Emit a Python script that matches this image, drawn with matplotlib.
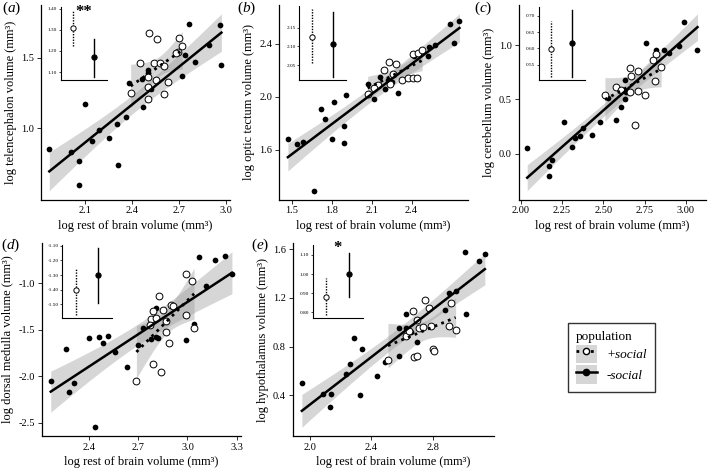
import numpy as np
import matplotlib
matplotlib.use("Agg")
import matplotlib.pyplot as plt
from matplotlib.lines import Line2D
from matplotlib.patches import Patch

plt.rcParams["font.family"] = ["Liberation Serif", "DejaVu Serif"]
plt.rcParams["mathtext.fontset"] = "custom"
plt.rcParams["mathtext.rm"] = "Liberation Serif"
plt.rcParams["mathtext.it"] = "Liberation Serif:italic"
plt.rcParams["axes.unicode_minus"] = False

W, H = 708, 468
XLABEL = "log rest of brain volume (mm³)"

# (a) telencephalon
a_fill_x = [1.87, 2.01, 2.06, 2.06, 2.10, 2.14, 2.19, 2.25, 2.30, 2.31, 2.36, 2.38,
            2.46, 2.47, 2.50, 2.50, 2.52, 2.72, 2.74, 2.76, 2.80, 2.89, 2.96, 2.97]
a_fill_y = [0.85, 0.83, 0.77, 0.60, 1.17, 0.91, 0.99, 0.93, 1.03, 0.74, 1.08, 1.32,
            1.35, 1.15, 1.41, 1.39, 1.28, 1.37, 1.52, 1.74, 1.47, 1.59, 1.73, 1.45]
a_open_x = [2.39, 2.51, 2.56, 2.70, 2.72, 2.69, 2.68, 2.45, 2.54, 2.58, 2.60, 2.50,
            2.55, 2.50, 2.63, 2.60, 2.50]
a_open_y = [1.25, 1.67, 1.63, 1.64, 1.58, 1.54, 1.53, 1.46, 1.46, 1.46, 1.44, 1.36,
            1.34, 1.29, 1.33, 1.24, 1.21]
a_inset = dict(mean=[1.31, 1.17], lo=[1.225, 1.078], hi=[1.392, 1.257], star="**", star_y=1.385)

# (b) optic tectum
b_fill_x = [1.47, 1.54, 1.58, 1.67, 1.75, 1.72, 1.82, 1.91, 1.80, 1.89, 1.89, 2.07,
            2.12, 2.16, 2.20, 2.25, 2.30, 2.42, 2.52, 2.53, 2.58, 2.69, 2.72, 2.76, 2.22]
b_fill_y = [1.68, 1.64, 1.66, 1.29, 1.83, 1.91, 1.96, 2.01, 1.68, 1.78, 1.65, 2.10,
            1.98, 2.15, 2.06, 2.11, 2.03, 2.31, 2.31, 2.38, 2.39, 2.55, 2.41, 2.57, 2.13]
b_open_x = [2.07, 2.19, 2.23, 2.28, 2.26, 2.15, 2.24, 2.33, 2.37, 2.41, 2.44, 2.41,
            2.45, 2.48, 2.12]
b_open_y = [2.02, 2.20, 2.26, 2.25, 2.17, 2.09, 2.10, 2.13, 2.14, 2.14, 2.14, 2.32,
            2.33, 2.35, 2.07]
b_inset = dict(mean=[2.126, 2.106], lo=[2.056, 2.02], hi=[2.198, 2.19], star="", star_y=None)

# (c) cerebellum
c_fill_x = [2.04, 2.17, 2.17, 2.19, 2.26, 2.31, 2.33, 2.36, 2.38, 2.43, 2.48, 2.53,
            2.58, 2.61, 2.63, 2.63, 2.64, 2.76, 2.82, 2.87, 2.90, 2.96, 2.99, 3.07]
c_fill_y = [0.05, -0.12, -0.21, -0.06, 0.29, 0.06, 0.14, 0.16, 0.24, 0.17, 0.29, 0.51,
            0.31, 0.43, 0.50, 0.68, 0.57, 1.02, 0.96, 0.96, 0.93, 0.99, 1.21, 0.96]
c_open_x = [2.51, 2.58, 2.61, 2.66, 2.71, 2.67, 2.66, 2.71, 2.75, 2.80, 2.82, 2.85,
            2.81, 2.69]
c_open_y = [0.54, 0.61, 0.59, 0.79, 0.76, 0.72, 0.57, 0.58, 0.54, 0.86, 0.92, 0.80,
            0.67, 0.26]
c_inset = dict(mean=[0.598, 0.617], lo=[0.513, 0.513], hi=[0.683, 0.717], star="", star_y=None)

# (d) dorsal medulla
d_fill_x = [2.17, 2.26, 2.28, 2.31, 2.40, 2.44, 2.46, 2.49, 2.52, 2.56, 2.63, 2.70,
            2.73, 2.78, 2.81, 2.82, 2.81, 2.99, 3.04, 3.07, 3.11, 3.17, 3.23, 3.27]
d_fill_y = [-2.05, -1.71, -2.17, -2.07, -1.59, -2.55, -1.58, -1.64, -1.57, -1.74, -1.90, -1.66,
            -1.48, -1.60, -1.58, -1.59, -1.27, -1.61, -1.44, -0.72, -1.03, -0.75, -0.71, -0.90]
d_open_x = [2.69, 2.79, 2.84, 2.78, 2.79, 2.83, 2.85, 2.87, 2.89, 2.90, 2.91, 2.99,
            3.03, 2.99, 3.04, 2.77, 2.81, 2.87]
d_open_y = [-2.05, -1.87, -1.96, -1.38, -1.30, -1.14, -1.29, -1.52, -1.64, -1.23, -1.24, -0.90,
            -0.98, -1.34, -1.48, -1.45, -1.37, -1.41]
d_inset = dict(mean=[-1.402, -1.30], lo=[-1.57, -1.487], hi=[-1.257, -1.117], star="", star_y=None)

# (e) hypothalamus
e_fill_x = [1.95, 2.09, 2.13, 2.14, 2.24, 2.26, 2.29, 2.33, 2.34, 2.44, 2.49, 2.58,
            2.58, 2.63, 2.63, 2.66, 2.70, 2.88, 2.91, 2.95, 3.01, 3.02, 3.10, 3.14]
e_fill_y = [0.50, 0.41, 0.30, 0.41, 0.57, 0.66, 0.87, 0.40, 0.78, 0.56, 0.67, 0.95,
            0.72, 1.07, 0.95, 0.92, 0.84, 1.10, 1.24, 1.26, 1.58, 1.07, 1.50, 1.56]
e_open_x = [2.51, 2.63, 2.67, 2.70, 2.71, 2.75, 2.78, 2.79, 2.74, 2.68, 2.70, 2.80,
            2.81, 2.92, 2.91, 2.95, 2.65]
e_open_y = [0.69, 0.89, 1.09, 1.02, 0.95, 1.18, 1.12, 0.97, 0.96, 0.71, 0.72, 0.78,
            0.76, 1.16, 0.97, 0.94, 0.93]
e_inset = dict(mean=[0.88, 0.998], lo=[0.787, 0.88], hi=[0.98, 1.113], star="*", star_y=1.135)

PANELS = [
    ("a", a_fill_x, a_fill_y, a_open_x, a_open_y, a_inset,
     "log telencephalon volume (mm³)", [2.1, 2.4, 2.7, 3.0], [1.0, 1.5], "%.1f", "%.1f",
     [1.10, 1.20, 1.30, 1.40]),
    ("b", b_fill_x, b_fill_y, b_open_x, b_open_y, b_inset,
     "log optic tectum volume (mm³)", [1.5, 1.8, 2.1, 2.4], [1.6, 2.0, 2.4], "%.1f", "%.1f",
     [2.05, 2.10, 2.15]),
    ("c", c_fill_x, c_fill_y, c_open_x, c_open_y, c_inset,
     "log cerebellum volume (mm³)", [2.0, 2.25, 2.5, 2.75, 3.0], [0.0, 0.5, 1.0], "%.2f", "%.1f",
     [0.55, 0.60, 0.65, 0.70]),
    ("d", d_fill_x, d_fill_y, d_open_x, d_open_y, d_inset,
     "log dorsal medulla volume (mm³)", [2.4, 2.7, 3.0, 3.3], [-2.5, -2.0, -1.5, -1.0], "%.1f", "%.1f",
     [-1.50, -1.40, -1.30, -1.20, -1.10]),
    ("e", e_fill_x, e_fill_y, e_open_x, e_open_y, e_inset,
     "log hypothalamus volume (mm³)", [2.0, 2.4, 2.8], [0.4, 0.8, 1.2, 1.6], "%.1f", "%.1f",
     [0.80, 0.90, 1.00, 1.10]),
]

# pixel boxes: left, top, right, bottom
MAIN_BOX = {"a": (40.7, 5, 230, 199.5), "b": (279.3, 5, 468, 199.5), "c": (518.7, 5, 706, 199.5),
            "d": (41.7, 243, 241, 436), "e": (292.7, 243, 494, 436)}
INSET_BOX = {"a": (60.7, 7, 107, 80), "b": (299, 6, 346, 80), "c": (538.7, 7, 585, 80),
             "d": (62.3, 245, 111.7, 318), "e": (312.7, 245, 363, 318)}
TAG_POS = {"a": (2, 8), "b": (237, 8), "c": (474, 8), "d": (1, 245), "e": (251, 245)}

DOTTED = (0, (1, 1.6))
RIBBON = "#999999"


def px_axes(fig, box):
    left, top, right, bottom = box
    return fig.add_axes([left / W, 1 - bottom / H, (right - left) / W, (bottom - top) / H])


def t975(df):
    return 1.96 + 2.5 / df


def lm_band(x, y, n=80):
    x = np.asarray(x, float)
    y = np.asarray(y, float)
    b1, b0 = np.polyfit(x, y, 1)
    xs = np.linspace(x.min(), x.max(), n)
    fit = b0 + b1 * xs
    df = len(x) - 2
    s = np.sqrt(((y - (b0 + b1 * x)) ** 2).sum() / df)
    sxx = ((x - x.mean()) ** 2).sum()
    se = s * np.sqrt(1 / len(x) + (xs - x.mean()) ** 2 / sxx)
    return xs, fit, fit - t975(df) * se, fit + t975(df) * se


def expand(lo, hi, frac=0.05):
    pad = (hi - lo) * frac
    return lo - pad, hi + pad


def style_axes(ax, lw=0.9, ticklen=3):
    for side in ("top", "right"):
        ax.spines[side].set_visible(False)
    for side in ("left", "bottom"):
        ax.spines[side].set_linewidth(lw)
    ax.tick_params(direction="out", length=ticklen, width=lw * 0.8, color="#333333")


def draw_main(ax, fx, fy, ox, oy, ylabel, xticks, yticks, xfmt, yfmt):
    ys_all = list(fy) + list(oy)
    fits = []
    for x, y, ls in ((ox, oy, DOTTED), (fx, fy, "-")):
        xs, fit, lo, hi = lm_band(x, y)
        ax.fill_between(xs, lo, hi, color=RIBBON, alpha=0.4, lw=0, zorder=1)
        fits.append((xs, fit, ls))
        ys_all += list(lo) + list(hi)
    ax.scatter(fx, fy, s=17, color="black", zorder=3, lw=0)
    ax.scatter(ox, oy, s=24, facecolor="white", edgecolor="black", lw=0.7, zorder=3)
    for xs, fit, ls in fits:
        ax.plot(xs, fit, color="black", lw=2.0 if ls == DOTTED else 1.8, ls=ls, zorder=4)
    xall = list(fx) + list(ox)
    ax.set_xlim(*expand(min(xall), max(xall)))
    ax.set_ylim(*expand(min(ys_all), max(ys_all)))
    ax.set_xticks(xticks)
    ax.set_xticklabels([xfmt % v for v in xticks])
    ax.set_yticks(yticks)
    ax.set_yticklabels([yfmt % v for v in yticks])
    ax.tick_params(labelsize=7.5, pad=2)
    ax.set_xlabel(XLABEL, fontsize=9, labelpad=3)
    ax.set_ylabel(ylabel, fontsize=9, labelpad=3)
    style_axes(ax)


def draw_inset(ax, ins, yticks):
    cats = [1, 2]
    styles = [(DOTTED, "white"), ("-", "black")]
    for c, m, lo, hi, (ls, fc) in zip(cats, ins["mean"], ins["lo"], ins["hi"], styles):
        ax.plot([c, c], [lo, hi], color="black", lw=1.0, ls=ls if ls == "-" else (0, (1, 1)))
        ax.plot([c], [m], marker="o", ms=3.8, mfc=fc, mec="black", mew=0.7, zorder=3)
    vals = ins["lo"] + ins["hi"]
    if ins["star"]:
        ax.text(1.5, ins["star_y"], ins["star"], ha="center", va="center", fontsize=12,
                fontweight="bold")
        vals = vals + [ins["star_y"]]
    ax.set_xlim(0.4, 2.6)
    ax.set_ylim(*expand(min(vals), max(vals)))
    ax.set_xticks([])
    ax.set_yticks(yticks)
    ax.set_yticklabels(["%.2f" % v for v in yticks])
    ax.tick_params(axis="y", labelsize=3.8, pad=1, length=1.5)
    ax.patch.set_alpha(0)
    style_axes(ax, lw=0.8, ticklen=1.5)
    ax.tick_params(axis="y", length=1.5)


fig = plt.figure(figsize=(W / 100, H / 100), dpi=100)

for tag, fx, fy, ox, oy, ins, ylabel, xt, yt, xfmt, yfmt, it in PANELS:
    ax = px_axes(fig, MAIN_BOX[tag])
    draw_main(ax, fx, fy, ox, oy, ylabel, xt, yt, xfmt, yfmt)
    iax = px_axes(fig, INSET_BOX[tag])
    draw_inset(iax, ins, it)
    tx, ty = TAG_POS[tag]
    fig.text(tx / W, 1 - ty / H, r"($\mathit{%s}$)" % tag, fontsize=11, ha="left", va="center")

h_plus = (Patch(facecolor="#d6d6d6", edgecolor="none"),
          Line2D([], [], color="black", ls=DOTTED, lw=2, marker="o", ms=4.5, mfc="white", mec="black"))
h_minus = (Patch(facecolor="#d6d6d6", edgecolor="none"),
           Line2D([], [], color="black", ls="-", lw=1.8, marker="o", ms=4.5, mfc="black", mec="black"))
leg = fig.legend([h_plus, h_minus], ["+social", "-social"], loc="upper left",
                 bbox_to_anchor=(568 / W, 1 - 322.7 / H), borderaxespad=0, frameon=True,
                 fancybox=False, title="population", alignment="left", handlelength=1.6,
                 handleheight=1.8, labelspacing=0.15, handletextpad=0.7, borderpad=0.6,
                 prop={"family": "Liberation Serif", "style": "italic", "size": 9.5},
                 title_fontproperties={"family": "Liberation Serif", "size": 9.5})
leg.get_frame().set_edgecolor("black")
leg.get_frame().set_linewidth(1.0)

fig.savefig("out.png", dpi=100)
